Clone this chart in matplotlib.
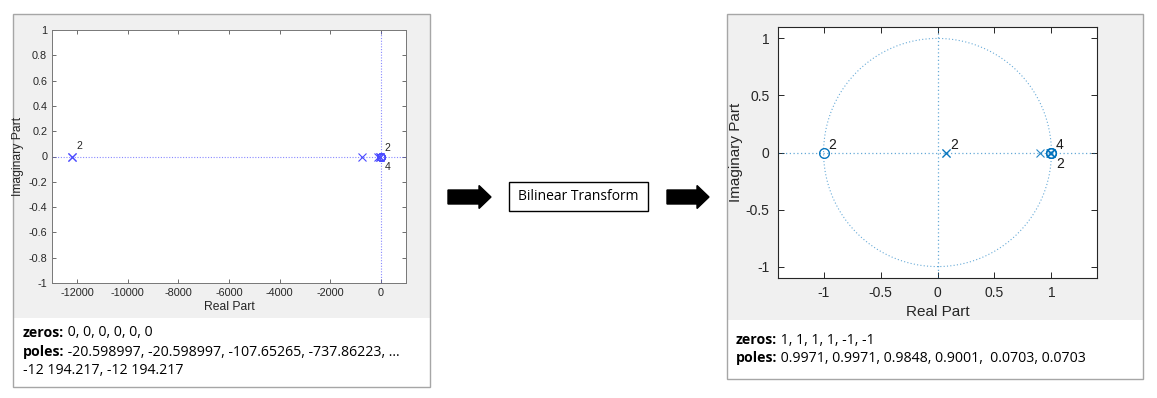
import numpy as np
import matplotlib
matplotlib.use("Agg")
import matplotlib.pyplot as plt
from matplotlib.patches import Rectangle, FancyArrow

# ---------------- data ----------------
s_zeros = [0, 0, 0, 0, 0, 0]
s_poles = [-20.598997, -20.598997, -107.65265, -737.86223, -12194.217, -12194.217]
s_xticks = [-12000, -10000, -8000, -6000, -4000, -2000, 0]
s_yticks = [-1, -0.8, -0.6, -0.4, -0.2, 0, 0.2, 0.4, 0.6, 0.8, 1]
s_labels = [(-12194.217, "2", 150, 0.08), (0, "2", 150, 0.07), (0, "4", 150, -0.085)]

z_zeros = [1, 1, 1, 1, -1, -1]
z_poles = [0.9971, 0.9971, 0.9848, 0.9001, 0.0703, 0.0703]
z_xticks = [-1, -0.5, 0, 0.5, 1]
z_yticks = [-1, -0.5, 0, 0.5, 1]
z_labels = [(-1, "2", 0.04, 0.07), (0.0703, "2", 0.04, 0.07), (1, "4", 0.04, 0.07), (1, "2", 0.04, -0.10)]

s_text = [("zeros:", " 0, 0, 0, 0, 0, 0"),
          ("poles:", " -20.598997, -20.598997, -107.65265, -737.86223, \u2026"),
          ("", "-12 194.217, -12 194.217")]
z_text = [("zeros:", " 1, 1, 1, 1, -1, -1"),
          ("poles:", " 0.9971, 0.9971, 0.9848, 0.9001,  0.0703, 0.0703")]

W, H = 1157, 398
fig = plt.figure(figsize=(W / 100, H / 100), dpi=100)
fig.patch.set_facecolor("white")

def frect(x0, y0, x1, y1, z=-5, **kw):
    r = Rectangle((x0 / W, 1 - y1 / H), (x1 - x0) / W, (y1 - y0) / H,
                  transform=fig.transFigure, zorder=z, **kw)
    fig.patches.append(r)

def fax(x0, y0, x1, y1):
    return fig.add_axes([x0 / W, 1 - y1 / H, (x1 - x0) / W, (y1 - y0) / H])

# panel backgrounds
frect(13, 14, 430, 318, facecolor="#f0f0f0", edgecolor="none")
frect(13, 14, 430, 387, facecolor="none", edgecolor="#a6a6a6", lw=1)
frect(727, 14, 1143, 320, facecolor="#f0f0f0", edgecolor="none")
frect(727, 14, 1143, 379, facecolor="none", edgecolor="#a6a6a6", lw=1)

tickfont = "Liberation Sans"

# ---------------- left (s-plane) ----------------
ax1 = fax(52, 30, 406, 283)
c1 = "#4a4aff"
ax1.axhline(0, color=c1, ls=(0, (1, 1.5)), lw=0.8, alpha=0.65)
ax1.axvline(0, color=c1, ls=(0, (1, 1.5)), lw=0.8, alpha=0.65)
ax1.plot(s_poles, np.zeros(len(s_poles)), "x", color=c1, ms=5.5, mew=0.8)
ax1.plot(s_zeros, np.zeros(len(s_zeros)), "o", color=c1, mfc="none", ms=5.5, mew=0.8)
for x, t, dx, dy in s_labels:
    ax1.text(x + dx, dy, t, fontsize=7.5, family=tickfont, color="#262626", va="center")
ax1.set_xlim(-13000, 1000)
ax1.set_ylim(-1, 1)
ax1.set_xticks(s_xticks)
ax1.set_yticks(s_yticks)
ax1.set_xticklabels([str(v) for v in s_xticks])
ax1.set_yticklabels(["%g" % v for v in s_yticks])
ax1.tick_params(direction="in", length=3, width=0.6, labelsize=7.8, colors="#262626",
                top=True, right=True, color="#555555")
for lab in ax1.get_xticklabels() + ax1.get_yticklabels():
    lab.set_family(tickfont)
for sp in ax1.spines.values():
    sp.set_color("#777777"); sp.set_linewidth(0.7)
ax1.set_xlabel("Real Part", fontsize=8.7, family=tickfont, color="#262626", labelpad=2)
ax1.set_ylabel("Imaginary Part", fontsize=8.7, family=tickfont, color="#262626", labelpad=3)

# ---------------- right (z-plane) ----------------
ax2 = fax(778, 27, 1097, 278)
c2 = "#0072BD"
th = np.linspace(0, 2 * np.pi, 400)
ax2.plot(np.cos(th), np.sin(th), color=c2, ls=(0, (1, 2)), lw=0.8, alpha=0.6)
ax2.axhline(0, color=c2, ls=(0, (1, 2)), lw=0.9, alpha=0.6)
ax2.axvline(0, color=c2, ls=(0, (1, 2)), lw=0.9, alpha=0.6)
ax2.plot(z_poles, np.zeros(len(z_poles)), "x", color=c2, ms=6, mew=0.8, alpha=0.85)
ax2.plot(z_zeros, np.zeros(len(z_zeros)), "o", color=c2, mfc="none", ms=7, mew=0.8, alpha=0.85)
for x, t, dx, dy in z_labels:
    ax2.text(x + dx, dy, t, fontsize=10, family=tickfont, color="#1a1a1a", va="center")
ax2.set_xlim(-1.4, 1.4)
ax2.set_ylim(-1.1, 1.1)
ax2.set_xticks(z_xticks)
ax2.set_yticks(z_yticks)
ax2.set_xticklabels(["%g" % v for v in z_xticks])
ax2.set_yticklabels(["%g" % v for v in z_yticks])
ax2.tick_params(direction="in", length=4, width=0.7, labelsize=10, colors="#262626",
                top=True, right=True, pad=6)
for lab in ax2.get_xticklabels() + ax2.get_yticklabels():
    lab.set_family(tickfont)
for sp in ax2.spines.values():
    sp.set_color("#262626"); sp.set_linewidth(0.8)
ax2.set_xlabel("Real Part", fontsize=11, family=tickfont, color="#262626", labelpad=3)
ax2.set_ylabel("Imaginary Part", fontsize=11, family=tickfont, color="#262626", labelpad=2)

# ---------------- text below ----------------
txtfont = "Open Sans"
renderer = fig.canvas.get_renderer()

def line(x, y, bold, rest, fs=10.2):
    x2 = x
    if bold:
        t = fig.text(x / W, 1 - y / H, bold, fontsize=fs, family=txtfont, weight="bold",
                     va="center", ha="left")
        x2 = x + t.get_window_extent(renderer=renderer).width
    fig.text(x2 / W, 1 - y / H, rest, fontsize=fs, family=txtfont, va="center", ha="left")

for (b, r), y in zip(s_text, [333, 352, 370]):
    line(23, y, b, r)
for (b, r), y in zip(z_text, [340, 358]):
    line(736, y, b, r)

# ---------------- middle ----------------
def arrow(x0, x1, yc):
    a = FancyArrow(x0 / W, 1 - yc / H, (x1 - x0) / W, 0, width=14 / H,
                   head_width=23 / H, head_length=12 / W, length_includes_head=True,
                   transform=fig.transFigure, color="black")
    fig.patches.append(a)

arrow(448, 491, 197)
arrow(667, 709, 197)
frect(509, 182, 648, 211, z=1, facecolor="white", edgecolor="black", lw=1)
fig.text(578.5 / W, 1 - 197 / H, "Bilinear Transform", fontsize=10, family=txtfont,
         ha="center", va="center")

fig.savefig("out.png", dpi=100)
